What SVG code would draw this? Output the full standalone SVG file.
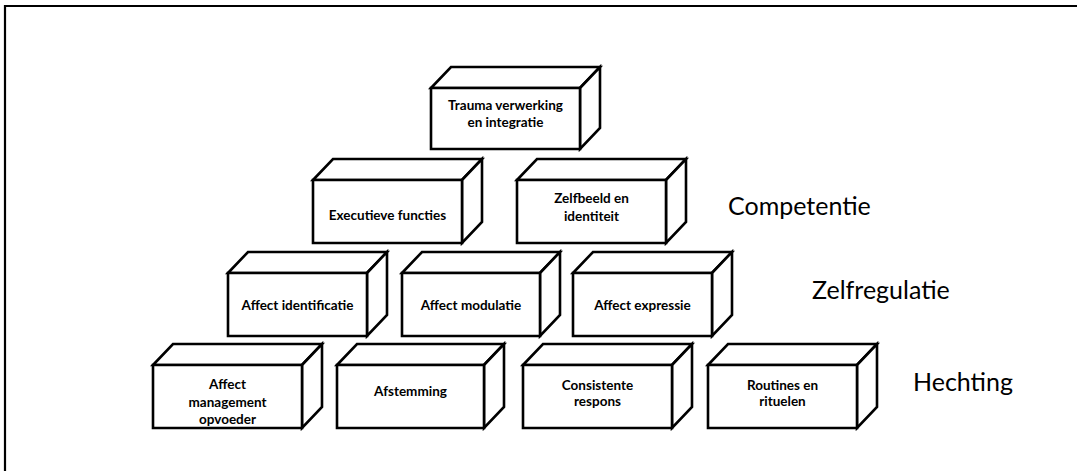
<svg xmlns="http://www.w3.org/2000/svg" width="1077" height="471" viewBox="0 0 1077 471">
<style>
.box path{fill:#fff;stroke:#000;stroke-width:2.6;stroke-linejoin:miter}
.t{font-family:Lato,"Open Sans","Liberation Sans",sans-serif;font-weight:bold;font-size:13.5px;fill:#000;text-anchor:middle}
.lvl{font-family:Lato,"Open Sans","Liberation Sans",sans-serif;font-size:25px;fill:#000}
</style>
<rect x="0" y="0" width="1077" height="471" fill="#fff"/>
<path d="M5,471 V6 H1077" fill="none" stroke="#000" stroke-width="2.2"/>
<g id="connectors"></g>

<g id="trauma" class="box">
<path d="M431,88 l20,-21 h149 l-20,21 Z"/>
<path d="M580,88 l20,-21 v61 l-20,21 Z"/>
<path d="M431,88 h149 v61 h-149 Z"/>
<text class="t" x="505.5" y="110">Trauma verwerking</text>
<text class="t" x="505.5" y="127">en integratie</text>
</g>

<g id="executieve" class="box">
<path d="M313,180 l20,-21 h149 l-20,21 Z"/>
<path d="M462,180 l20,-21 v63 l-20,21 Z"/>
<path d="M313,180 h149 v63 h-149 Z"/>
<text class="t" x="387.5" y="220">Executieve functies</text>
</g>

<g id="zelfbeeld" class="box">
<path d="M517,180 l20,-21 h149 l-20,21 Z"/>
<path d="M666,180 l20,-21 v63 l-20,21 Z"/>
<path d="M517,180 h149 v63 h-149 Z"/>
<text class="t" x="591.5" y="203">Zelfbeeld en</text>
<text class="t" x="591.5" y="221">identiteit</text>
</g>

<g id="identificatie" class="box">
<path d="M228,273 l20,-21 h139 l-20,21 Z"/>
<path d="M367,273 l20,-21 v63 l-20,21 Z"/>
<path d="M228,273 h139 v63 h-139 Z"/>
<text class="t" x="297.5" y="310">Affect identificatie</text>
</g>

<g id="modulatie" class="box">
<path d="M402,273 l20,-21 h138 l-20,21 Z"/>
<path d="M540,273 l20,-21 v63 l-20,21 Z"/>
<path d="M402,273 h138 v63 h-138 Z"/>
<text class="t" x="471" y="310">Affect modulatie</text>
</g>

<g id="expressie" class="box">
<path d="M573,273 l20,-21 h139 l-20,21 Z"/>
<path d="M712,273 l20,-21 v63 l-20,21 Z"/>
<path d="M573,273 h139 v63 h-139 Z"/>
<text class="t" x="642.5" y="310">Affect expressie</text>
</g>

<g id="management" class="box">
<path d="M153,365 l20,-21 h149 l-20,21 Z"/>
<path d="M302,365 l20,-21 v63 l-20,21 Z"/>
<path d="M153,365 h149 v63 h-149 Z"/>
<text class="t" x="227.5" y="389">Affect</text>
<text class="t" x="227.5" y="406.5">management</text>
<text class="t" x="227.5" y="424">opvoeder</text>
</g>

<g id="afstemming" class="box">
<path d="M337,365 l20,-21 h147 l-20,21 Z"/>
<path d="M484,365 l20,-21 v63 l-20,21 Z"/>
<path d="M337,365 h147 v63 h-147 Z"/>
<text class="t" x="410.5" y="396">Afstemming</text>
</g>

<g id="consistente" class="box">
<path d="M523,365 l20,-21 h149 l-20,21 Z"/>
<path d="M672,365 l20,-21 v63 l-20,21 Z"/>
<path d="M523,365 h149 v63 h-149 Z"/>
<text class="t" x="597.5" y="389.5">Consistente</text>
<text class="t" x="597.5" y="406">respons</text>
</g>

<g id="routines" class="box">
<path d="M708,365 l20,-21 h149 l-20,21 Z"/>
<path d="M857,365 l20,-21 v63 l-20,21 Z"/>
<path d="M708,365 h149 v63 h-149 Z"/>
<text class="t" x="782.5" y="389.5">Routines en</text>
<text class="t" x="782.5" y="406">rituelen</text>
</g>

<g id="levels">
<text class="lvl" x="728" y="215">Competentie</text>
<text class="lvl" x="812" y="299">Zelfregulatie</text>
<text class="lvl" x="913" y="391">Hechting</text>
</g>
</svg>
